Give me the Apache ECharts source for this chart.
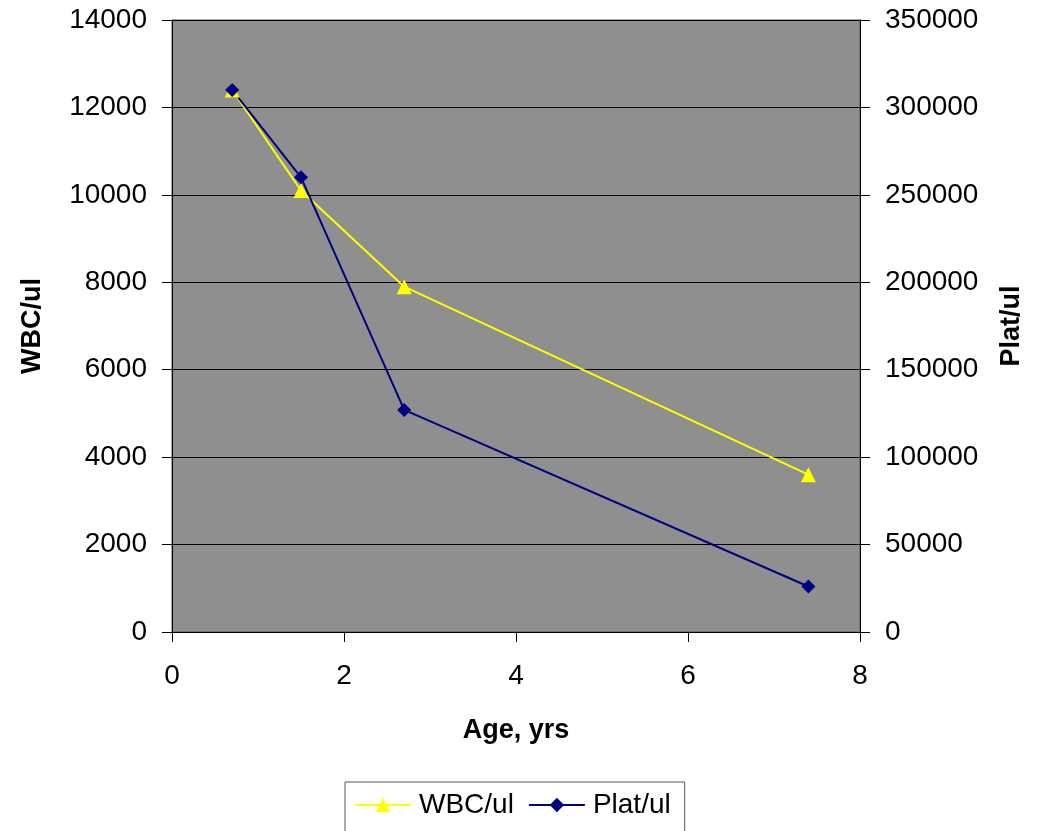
<!DOCTYPE html>
<html>
<head>
<meta charset="utf-8">
<script src="https://cdn.jsdelivr.net/npm/echarts@6/dist/echarts.min.js"></script>
<style>html,body{margin:0;padding:0;background:#fff;}#c{width:1038px;height:831px;}</style>
</head>
<body>
<div id="c"></div>
<script>
var ages = [0.7, 1.5, 2.7, 7.4];
var wbc = [12400, 10100, 7900, 3600];
var plat = [310000, 260000, 127000, 26000];
var seriesNames = ['WBC/ul', 'Plat/ul'];

var font = 'Liberation Sans, Arial, sans-serif';
var chart = echarts.init(document.getElementById('c'));
function pairs(xs, ys){ return xs.map(function(x,i){ return [x, ys[i]]; }); }
function plain(v){ return String(v); }
chart.setOption({
  animation: false,
  backgroundColor: '#fff',
  grid: {left: 172, right: 178, top: 20, bottom: 199, show: true, backgroundColor: '#8f8f8f', borderColor: '#555', borderWidth: 1},
  xAxis: {
    type: 'value', min: 0, max: 8, interval: 2,
    name: 'Age, yrs', nameLocation: 'middle', nameGap: 85,
    nameTextStyle: {fontFamily: font, fontSize: 27, fontWeight: 'bold', color: '#000'},
    axisLine: {lineStyle: {color: '#000', width: 1}},
    axisTick: {show: true, length: 10, lineStyle: {color: '#000'}},
    axisLabel: {fontFamily: font, fontSize: 28, color: '#000', margin: 30, formatter: plain},
    splitLine: {show: false}
  },
  yAxis: [{
    type: 'value', min: 0, max: 14000, interval: 2000,
    name: 'WBC/ul', nameLocation: 'middle', nameGap: 126,
    nameTextStyle: {fontFamily: font, fontSize: 27, fontWeight: 'bold', color: '#000'},
    axisLine: {show: true, lineStyle: {color: '#000', width: 1}},
    axisTick: {show: true, length: 10, lineStyle: {color: '#000'}},
    axisLabel: {fontFamily: font, fontSize: 28, color: '#000', margin: 25, formatter: plain},
    splitLine: {show: true, lineStyle: {color: '#000', width: 1}}
  }, {
    type: 'value', min: 0, max: 350000, interval: 50000, position: 'right',
    name: 'Plat/ul', nameLocation: 'middle', nameGap: 138,
    nameTextStyle: {fontFamily: font, fontSize: 27, fontWeight: 'bold', color: '#000'},
    axisLine: {show: true, lineStyle: {color: '#000', width: 1}},
    axisTick: {show: true, length: 10, lineStyle: {color: '#000'}},
    axisLabel: {fontFamily: font, fontSize: 28, color: '#000', margin: 25, formatter: plain},
    splitLine: {show: false}
  }],
  legend: {
    left: 345, top: 782,
    backgroundColor: '#fff', borderColor: '#555', borderWidth: 1,
    padding: [9, 14, 20, 9],
    itemWidth: 56, itemHeight: 18, itemGap: 14,
    textStyle: {fontFamily: font, fontSize: 28, color: '#000', padding: [0, 0, 0, 3]},
    data: seriesNames
  },
  series: [{
    name: seriesNames[0], type: 'line', yAxisIndex: 0,
    data: pairs(ages, wbc),
    symbol: 'triangle', symbolSize: 15,
    lineStyle: {color: '#ffff00', width: 2},
    itemStyle: {color: '#ffff00'}
  }, {
    name: seriesNames[1], type: 'line', yAxisIndex: 1,
    data: pairs(ages, plat),
    symbol: 'diamond', symbolSize: 14,
    lineStyle: {color: '#000080', width: 2},
    itemStyle: {color: '#000080'}
  }]
});
</script>
</body>
</html>
